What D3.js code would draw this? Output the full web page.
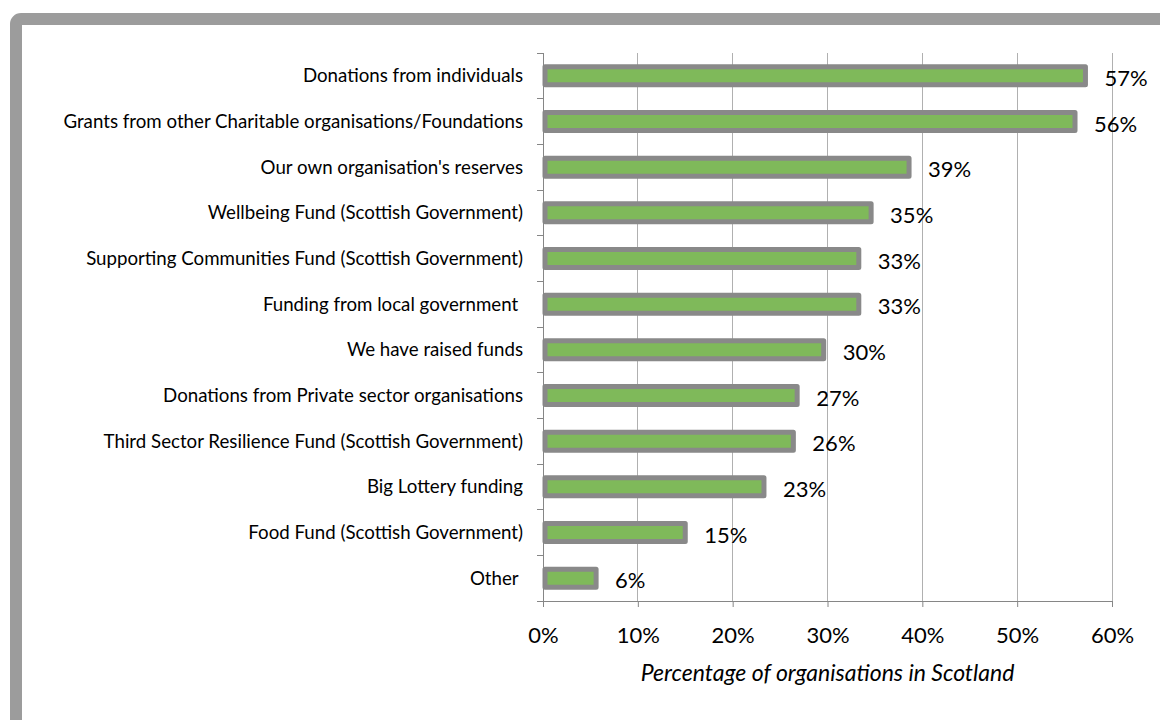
<!DOCTYPE html>
<html lang="en">
<head>
  <meta charset="UTF-8">
  <title>Funding sources</title>
  <style>
  body { margin: 0; background: #fff; }
  #chart { width: 1160px; height: 720px; }
  text { font-family: Lato, "Open Sans", sans-serif; fill: #000; }
  </style>
</head>
<body>
  <div id="chart"></div>
  <script src="https://cdn.jsdelivr.net/npm/d3@7"></script>
  <script>

const categories = [
  'Donations from individuals',
  'Grants from other Charitable organisations/Foundations',
  "Our own organisation's reserves",
  'Wellbeing Fund (Scottish Government)',
  'Supporting Communities Fund (Scottish Government)',
  'Funding from local government ',
  'We have raised funds',
  'Donations from Private sector organisations',
  'Third Sector Resilience Fund (Scottish Government)',
  'Big Lottery funding',
  'Food Fund (Scottish Government)',
  'Other '
]
const values = [57.2, 56.1, 38.6, 34.6, 33.3, 33.3, 29.6, 26.8, 26.4, 23.3, 15.0, 5.6]
const ticks = [0, 10, 20, 30, 40, 50, 60]
const axisTitle = 'Percentage of organisations in Scotland'

const W = 1160, H = 720
const m = {top: 53, left: 543, right: 48, bottom: 119}
const iw = W - m.left - m.right, ih = H - m.top - m.bottom

const svg = d3.select('#chart').append('svg')
  .attr('width', W).attr('height', H)

// outer frame (runs off the right and bottom)
svg.append('rect')
  .attr('x', 16).attr('y', 19)
  .attr('width', 1300).attr('height', 900)
  .attr('rx', 5)
  .attr('fill', '#fff')
  .attr('stroke', '#9c9c9c')
  .attr('stroke-width', 12)

const g = svg.append('g').attr('transform', `translate(${m.left},${m.top})`)

const x = d3.scaleLinear().domain([0, 60]).range([0, iw])
const y = d3.scaleBand().domain(categories).range([0, ih])

// vertical gridlines
g.selectAll('.grid').data(ticks.slice(1))
  .join('line')
  .attr('x1', d => x(d)).attr('x2', d => x(d))
  .attr('y1', 0).attr('y2', ih)
  .attr('stroke', '#b0b0b0')
  .attr('shape-rendering', 'crispEdges')

// bars
g.selectAll('.bar').data(values)
  .join('rect')
  .attr('x', 2)
  .attr('y', (d, i) => y(categories[i]) + y.bandwidth() / 2 - 9)
  .attr('width', d => x(d) - 2)
  .attr('height', 18)
  .attr('fill', '#7fb95a')
  .attr('stroke', '#898989')
  .attr('stroke-width', 5)
  .attr('stroke-linejoin', 'round')

// value labels
g.selectAll('.val').data(values)
  .join('text')
  .attr('x', d => x(d) + 19)
  .attr('y', (d, i) => y(categories[i]) + y.bandwidth() / 2 + 1.5)
  .attr('dominant-baseline', 'central')
  .style('font-size', '22px')
  .text(d => Math.round(d) + '%')

// y axis
const yAxis = g.append('g')
  .call(d3.axisLeft(y).tickSize(0).tickPadding(20))
yAxis.select('.domain').remove()
yAxis.selectAll('text')
  .style('font-size', '18.7px')
  .style('white-space', 'pre')
  .attr('dy', '0.35em')

g.append('line')
  .attr('x1', 0).attr('x2', 0).attr('y1', 0).attr('y2', ih)
  .attr('stroke', '#868686').attr('shape-rendering', 'crispEdges')
g.selectAll('.ytick').data(d3.range(categories.length + 1))
  .join('line')
  .attr('x1', -6).attr('x2', 0)
  .attr('y1', i => i * y.step()).attr('y2', i => i * y.step())
  .attr('stroke', '#868686').attr('shape-rendering', 'crispEdges')

// x axis
const xAxis = g.append('g')
  .attr('transform', `translate(0,${ih})`)
  .call(d3.axisBottom(x).tickValues(ticks).tickFormat(d => d + '%').tickSize(6).tickPadding(20))
xAxis.select('.domain').attr('stroke', '#868686')
xAxis.selectAll('line').attr('stroke', '#868686')
xAxis.selectAll('text').style('font-size', '22px').attr('fill', '#000')

g.append('text')
  .attr('x', iw / 2)
  .attr('y', ih + 80)
  .attr('text-anchor', 'middle')
  .style('font-size', '23px')
  .style('font-style', 'italic')
  .text(axisTitle)

  </script>
</body>
</html>
